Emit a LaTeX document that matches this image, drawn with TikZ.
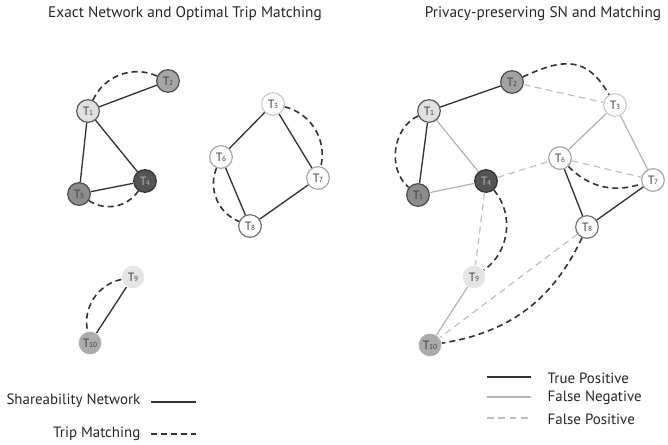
\documentclass[tikz,border=0pt]{standalone}
\usepackage{fontspec}
\setmainfont{PT Sans}
\usetikzlibrary{positioning}

% trip label: capital T with a small index
\newcommand\tlab[1]{T\kern-0.3pt{\fontsize{5.5}{5.5}\selectfont #1}}

\tikzset{
  trip/.style={circle, minimum size=17pt, inner sep=0pt, line width=0.9pt,
    font=\fontsize{9}{9}\selectfont, text=black!75},
  sn/.style={draw=black!80, line width=1pt},
  tm/.style={draw=black!80, line width=1.2pt, dash pattern=on 4.5pt off 3pt},
  fn/.style={draw=black!30, line width=0.9pt},
  fp/.style={draw=black!25, line width=0.9pt, dash pattern=on 5pt off 3.5pt},
  title/.style={font=\fontsize{11.5}{13}\selectfont, text=black!85},
  legend/.style={font=\fontsize{11.2}{13}\selectfont, text=black!85},
}

\begin{document}
\begin{tikzpicture}[x=0.75pt, y=0.75pt]
\useasboundingbox (0,0) rectangle (668,-445);

\node[title] (ltitle) at (185,-14) {Exact Network and Optimal Trip Matching};
\node[title] (rtitle) at (543,-14) {Privacy-preserving SN and Matching};

% exact network
\node[trip, fill=black!12, draw=black!65] (l1) at (88,-111) {\tlab{1}};
\node[trip, fill=black!35, draw=black!70] (l2) at (168,-81) {\tlab{2}};
\node[trip, fill=white, draw=black!20] (l3) at (273,-104) {\tlab{3}};
\node[trip, fill=black!67, draw=black!80, text=black!30] (l4) at (145,-181) {\tlab{4}};
\node[trip, fill=black!45, draw=black!70] (l5) at (79,-194) {\tlab{5}};
\node[trip, fill=white, draw=black!35] (l6) at (221,-157) {\tlab{6}};
\node[trip, fill=white, draw=black!35] (l7) at (318,-178) {\tlab{7}};
\node[trip, fill=white, draw=black!55] (l8) at (250,-226) {\tlab{8}};
\node[trip, fill=black!10] (l9) at (133,-277) {\tlab{9}};
\node[trip, fill=black!33] (l10) at (90,-343) {\tlab{10}};

\draw[sn] (l1) -- (l2);
\draw[sn] (l1) -- (l5);
\draw[sn] (l1) -- (l4);
\draw[sn] (l5) -- (l4);
\draw[sn] (l3) -- (l6);
\draw[sn] (l3) -- (l7);
\draw[sn] (l6) -- (l8);
\draw[sn] (l8) -- (l7);
\draw[sn] (l9) -- (l10);

\draw[tm] (l1) to[bend left=45] (l2);
\draw[tm] (l5) to[bend right=45] (l4);
\draw[tm] (l3) to[bend left=45] (l7);
\draw[tm] (l6) to[bend right=45] (l8);
\draw[tm] (l9) to[bend right=45] (l10);

% privacy-preserving network
\node[trip, fill=black!12, draw=black!65] (r1) at (429,-111) {\tlab{1}};
\node[trip, fill=black!37, draw=black!70] (r2) at (512,-82) {\tlab{2}};
\node[trip, fill=white, draw=black!20] (r3) at (615,-105) {\tlab{3}};
\node[trip, fill=black!67, draw=black!80, text=black!30] (r4) at (486,-181) {\tlab{4}};
\node[trip, fill=black!45, draw=black!70] (r5) at (418,-195) {\tlab{5}};
\node[trip, fill=white, draw=black!35] (r6) at (560,-158) {\tlab{6}};
\node[trip, fill=white, draw=black!35] (r7) at (653,-180) {\tlab{7}};
\node[trip, fill=white, draw=black!55] (r8) at (587,-227) {\tlab{8}};
\node[trip, fill=black!10] (r9) at (474,-277) {\tlab{9}};
\node[trip, fill=black!33] (r10) at (430,-345) {\tlab{10}};

\draw[sn] (r1) -- (r2);
\draw[sn] (r1) -- (r5);
\draw[sn] (r6) -- (r8);
\draw[sn] (r8) -- (r7);

\draw[fn] (r1) -- (r4);
\draw[fn] (r5) -- (r4);
\draw[fn] (r3) -- (r6);
\draw[fn] (r3) -- (r7);
\draw[fn] (r9) -- (r10);

\draw[fp] (r2) -- (r3);
\draw[fp] (r4) -- (r6);
\draw[fp] (r6) -- (r7);
\draw[fp] (r4) -- (r9);
\draw[fp] (r8) -- (r10);

\draw[tm] (r2) to[out=25, in=120, looseness=1.3] (r3);
\draw[tm] (r1) to[bend right=58] (r5);
\draw[tm] (r6) to[bend right=32] (r7);
\draw[tm] (r4) to[bend left=48] (r9);
\draw[tm] (r8) to[bend left=28] (r10);

% legends
\node[legend, anchor=east] (snkey) at (145,-401) {Shareability Network};
\node[legend, anchor=east] (tmkey) at (145,-434) {Trip Matching};
\coordinate (sna) at (151,-402);
\coordinate (snb) at (196,-402);
\coordinate (tma) at (151,-434);
\coordinate (tmb) at (196,-434);
\draw[sn] (sna) -- (snb);
\draw[tm] (tma) -- (tmb);

\node[legend, anchor=west] (tpkey) at (543,-378) {True Positive};
\node[legend, anchor=west] (fnkey) at (543,-398) {False Negative};
\node[legend, anchor=west] (fpkey) at (543,-419) {False Positive};
\coordinate (tpa) at (487,-377);
\coordinate (tpb) at (531,-377);
\coordinate (fna) at (487,-397);
\coordinate (fnb) at (531,-397);
\coordinate (fpa) at (487,-418);
\coordinate (fpb) at (531,-418);
\draw[sn] (tpa) -- (tpb);
\draw[fn] (fna) -- (fnb);
\draw[fp] (fpa) -- (fpb);
\end{tikzpicture}
\end{document}
